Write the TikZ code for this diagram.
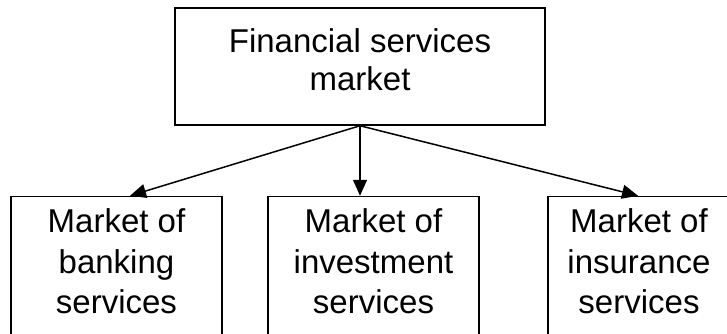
\documentclass[tikz,border=0pt]{standalone}
\usepackage{fontspec}
\setmainfont{Liberation Sans}
\usetikzlibrary{arrows.meta, positioning}
\tikzset{
	every node/.style={
		align=center,
	},
	box/.style={draw, line width=1.5pt, inner sep=0pt},
	toptext/.style={inner sep=0pt, font=\fontsize{33}{38}\selectfont},
	subtext/.style={inner sep=0pt, font=\fontsize{33}{40.5}\selectfont},
	link/.style={line width=1.5pt, -{Triangle[length=16pt,width=14pt]}},
}

\begin{document}
\begin{tikzpicture}[x=1pt,y=-1pt]
        \useasboundingbox (0,0) rectangle (727,333);
        \node[box, minimum width=370pt, minimum height=117pt,
              label={[toptext, anchor=north, yshift=-21pt]north:Financial services\\market}] (market) at (360,66.5) {};
        \node[box, below=70pt of market.south, xshift=-243.5pt, minimum width=211pt, minimum height=150pt,
              label={[subtext, anchor=north, yshift=-13pt]north:Market of\\banking\\services}] (banking) {};
        \node[box, below=70pt of market.south, xshift=13.5pt, minimum width=211pt, minimum height=150pt,
              label={[subtext, anchor=north, yshift=-13pt]north:Market of\\investment\\services}] (investment) {};
        \node[box, below=70pt of market.south, xshift=279pt, minimum width=182pt, minimum height=150pt,
              label={[subtext, anchor=north, yshift=-13pt]north:Market of\\insurance\\services}] (insurance) {};
        \draw[link] (market.south) -- ([xshift=13.5pt]banking.north);
        \draw[link] (market.south) -- ([xshift=-13.5pt]investment.north);
        \draw[link] (market.south) -- ([xshift=-1pt]insurance.north);
\end{tikzpicture}
\end{document}
